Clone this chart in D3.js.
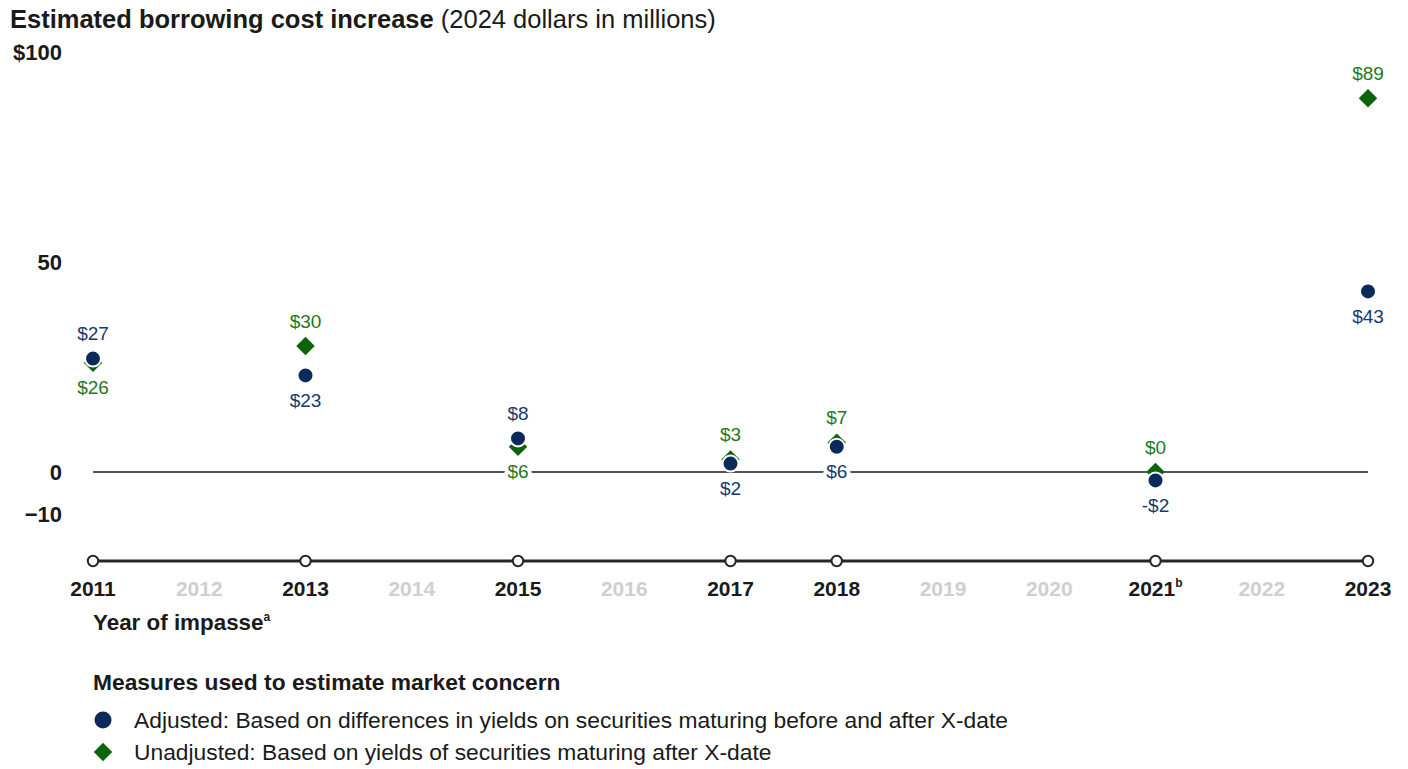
<!DOCTYPE html>
<html>
<head>
<meta charset="utf-8">
<script src="https://cdn.jsdelivr.net/npm/d3@7"></script>
<style>
  html, body { margin: 0; padding: 0; background: #fff; }
  svg { display: block; font-family: "Liberation Sans", Arial, sans-serif; }
</style>
</head>
<body>
<svg id="chart" width="1408" height="769"></svg>
<script>
// Years of debt-limit impasses and the estimated borrowing cost increase (2024 $M)
const years = [2011, 2012, 2013, 2014, 2015, 2016, 2017, 2018, 2019, 2020, 2021, 2022, 2023];
const impasseYears = [2011, 2013, 2015, 2017, 2018, 2021, 2023];
const adjusted   = [27, 23, 8, 2, 6, -2, 43];
const unadjusted = [26, 30, 6, 3, 7, 0, 89];
const yTicks = [100, 50, 0, -10];
const yearNotes = { 2021: "b" };

const navy = "#0b2a5b";
const navyText = "#173a6e";
const green = "#0a650a";
const greenText = "#1d7a1d";
const ink = "#1a1a1a";

const svg = d3.select("#chart");

const x = d3.scaleLinear().domain([2011, 2023]).range([93, 1368]);
const y = d3.scaleLinear().domain([0, 100]).range([472, 52]);

// Title
const title = svg.append("text").attr("x", 10).attr("y", 28)
  .attr("font-size", 25.5).attr("fill", ink);
title.append("tspan").attr("font-weight", "bold").text("Estimated borrowing cost increase");
title.append("tspan").text(" (2024 dollars in millions)");

// Y-axis labels
const yAxis = d3.axisLeft(y).tickValues(yTicks).tickSize(0)
  .tickFormat(d => d === 100 ? "$100" : d3.format("d")(d));
const gy = svg.append("g").attr("transform", "translate(62,0)").call(yAxis);
gy.select(".domain").remove();
gy.selectAll("text").attr("x", 0).attr("font-size", 22).attr("font-weight", "bold")
  .attr("fill", ink).attr("font-family", "'Liberation Sans', Arial, sans-serif");

// Zero line
svg.append("line").attr("x1", x(2011)).attr("x2", x(2023))
  .attr("y1", y(0)).attr("y2", y(0)).attr("stroke", ink).attr("stroke-width", 1.6);

// Timeline axis
const axisY = 561;
svg.append("line").attr("x1", x(2011)).attr("x2", x(2023))
  .attr("y1", axisY).attr("y2", axisY).attr("stroke", "#262626").attr("stroke-width", 3.2);
svg.selectAll("circle.tick").data(impasseYears).join("circle")
  .attr("class", "tick").attr("cx", d => x(d)).attr("cy", axisY).attr("r", 5.2)
  .attr("fill", "#fff").attr("stroke", "#262626").attr("stroke-width", 2);

const yearLabels = svg.selectAll("text.year").data(years).join("text")
  .attr("class", "year").attr("x", d => x(d)).attr("y", 596)
  .attr("text-anchor", "middle").attr("font-size", 21).attr("font-weight", "bold")
  .attr("fill", d => impasseYears.includes(d) ? ink : "#cfcfcf");
yearLabels.append("tspan").text(d => d);
yearLabels.filter(d => yearNotes[d]).append("tspan")
  .attr("font-size", 12).attr("dy", -9).text(d => yearNotes[d]);

const xTitle = svg.append("text").attr("x", 93).attr("y", 630)
  .attr("font-size", 22.4).attr("font-weight", "bold").attr("fill", ink);
xTitle.append("tspan").text("Year of impasse");
xTitle.append("tspan").attr("font-size", 12).attr("dy", -9).text("a");

// Points
const pts = impasseYears.map((yr, i) => ({ yr, adj: adjusted[i], unadj: unadjusted[i] }));
const diamondPath = d3.symbol().type(d3.symbolSquare).size(170);

svg.selectAll("path.unadj").data(pts).join("path").attr("class", "unadj")
  .attr("transform", d => `translate(${x(d.yr)},${y(d.unadj)}) rotate(45)`)
  .attr("d", diamondPath).attr("fill", green);

svg.selectAll("circle.adj").data(pts).join("circle").attr("class", "adj")
  .attr("cx", d => x(d.yr)).attr("cy", d => y(d.adj)).attr("r", 8)
  .attr("fill", navy).attr("stroke", "#fff").attr("stroke-width", 2);

// Value labels: the larger value sits above its marker, the smaller below
const fmt = v => (v < 0 ? "-$" : "$") + Math.abs(v);
const labels = [];
pts.forEach(d => {
  const adjAbove = d.adj > d.unadj;
  labels.push({ yr: d.yr, v: d.adj, above: adjAbove, color: navyText });
  labels.push({ yr: d.yr, v: d.unadj, above: !adjAbove, color: greenText });
});
svg.selectAll("text.val").data(labels).join("text").attr("class", "val")
  .attr("x", d => x(d.yr)).attr("y", d => y(d.v) + (d.above ? -25 : 25))
  .attr("dy", "0.35em").attr("text-anchor", "middle").attr("font-size", 19)
  .attr("fill", d => d.color).attr("stroke", "#fff").attr("stroke-width", 8)
  .attr("stroke-linejoin", "round").attr("paint-order", "stroke").text(d => fmt(d.v));

// Legend
svg.append("text").attr("x", 93).attr("y", 690).attr("font-size", 22.8)
  .attr("font-weight", "bold").attr("fill", ink).text("Measures used to estimate market concern");
const legendItems = [
  { kind: "circle", text: "Adjusted: Based on differences in yields on securities maturing before and after X-date" },
  { kind: "diamond", text: "Unadjusted: Based on yields of securities maturing after X-date" }
];
const lg = svg.selectAll("g.legend").data(legendItems).join("g").attr("class", "legend")
  .attr("transform", (d, i) => `translate(103,${720 + i * 32})`);
lg.filter(d => d.kind === "circle").append("circle").attr("r", 8.5).attr("fill", navy);
lg.filter(d => d.kind === "diamond").append("path")
  .attr("transform", "rotate(45)").attr("d", diamondPath).attr("fill", green);
lg.append("text").attr("x", 31).attr("dy", "0.35em").attr("font-size", 22.8)
  .attr("fill", ink).text(d => d.text);
</script>
</body>
</html>
